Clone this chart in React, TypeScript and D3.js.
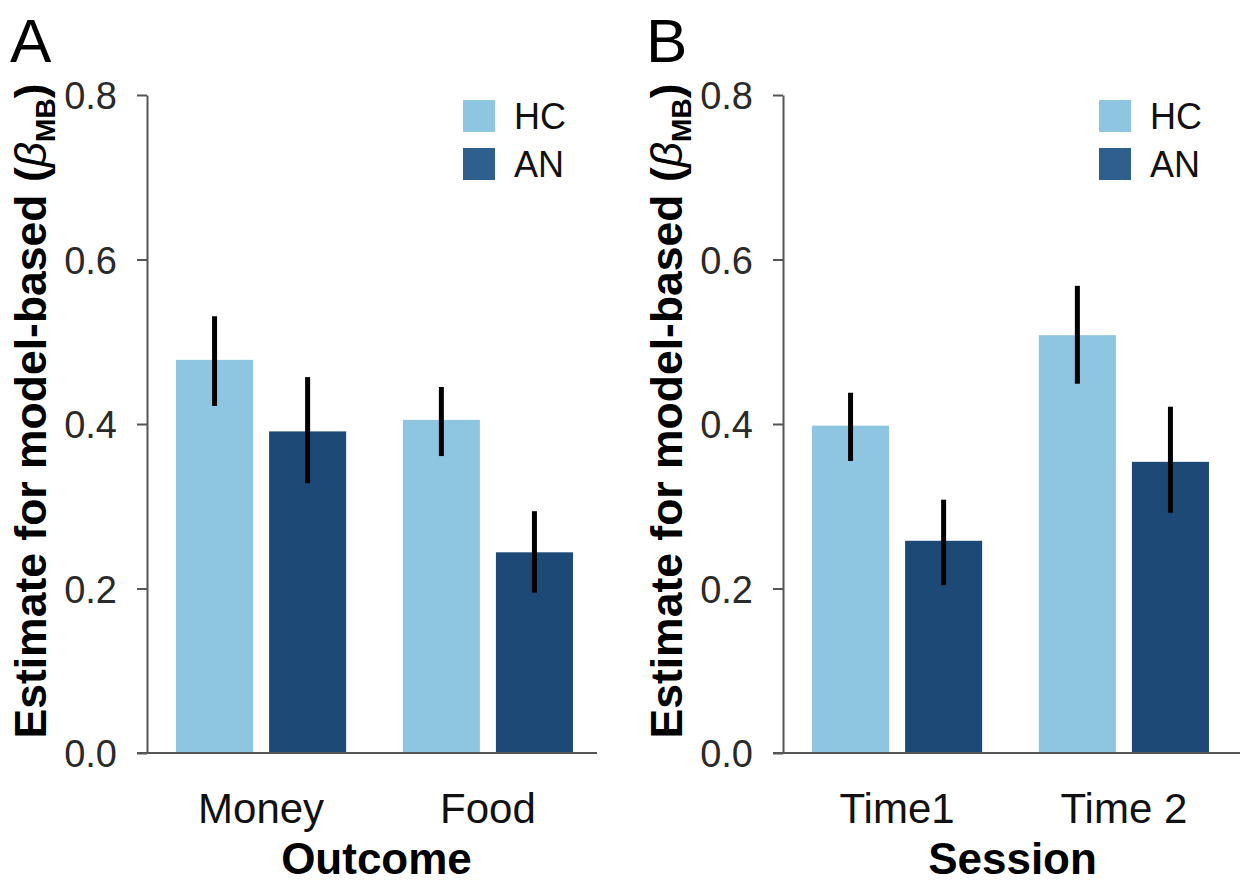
import React, { useRef, useEffect } from 'react';
import * as d3 from 'd3';

// panel A: outcome
const outcomes = ["Money", "Food"];
const outcomeHC = [0.478, 0.405];
const outcomeAN = [0.391, 0.244];
const outcomeHCLow = [0.422, 0.361];
const outcomeHCHigh = [0.531, 0.445];
const outcomeANLow = [0.328, 0.195];
const outcomeANHigh = [0.457, 0.294];

// panel B: session
const sessions = ["Time1", "Time 2"];
const sessionHC = [0.398, 0.508];
const sessionAN = [0.258, 0.354];
const sessionHCLow = [0.355, 0.449];
const sessionHCHigh = [0.438, 0.568];
const sessionANLow = [0.204, 0.292];
const sessionANHigh = [0.308, 0.421];

const groups = ["HC", "AN"];
const yTicks = [0, 0.2, 0.4, 0.6, 0.8];

const barColors = { HC: "#8ec5e1", AN: "#1c4976" };
const legendColors = { HC: "#8ec5e1", AN: "#2e5f8d" };
const font = "'Liberation Sans', Arial, Helvetica, sans-serif";

function App() {
  const ref = useRef(null);

  useEffect(() => {
    const width = 1246;
    const height = 882;
    const panelShift = 636;

    const svg = d3.select(ref.current)
      .append("svg")
      .attr("width", width)
      .attr("height", height)
      .attr("viewBox", [0, 0, width, height])
      .style("position", "absolute")
      .style("left", "0px")
      .style("top", "0px")
      .style("background", "#fff")
      .style("font-family", font);

    const y = d3.scaleLinear().domain([0, 0.8]).range([753, 95]);

    const panels = [
      { letter: "A", cats: outcomes, hc: outcomeHC, an: outcomeAN, hcLow: outcomeHCLow, hcHigh: outcomeHCHigh, anLow: outcomeANLow, anHigh: outcomeANHigh, title: "Outcome", lineEnd: 597 },
      { letter: "B", cats: sessions, hc: sessionHC, an: sessionAN, hcLow: sessionHCLow, hcHigh: sessionHCHigh, anLow: sessionANLow, anHigh: sessionANHigh, title: "Session", lineEnd: 1240 - panelShift },
    ];

    panels.forEach((p, i) => {
      const g = svg.append("g").attr("transform", `translate(${i * panelShift},0)`);
      const axisX = 147;

      const x0 = d3.scaleBand()
        .domain(p.cats)
        .range([axisX, 602])
        .paddingInner(0.25)
        .paddingOuter(0.128);

      const x1 = d3.scaleBand()
        .domain(groups)
        .range([0, x0.bandwidth()])
        .paddingInner(0.172);

      const rows = p.cats.map((c, j) => ({
        cat: c,
        items: [
          { key: "HC", v: p.hc[j], lo: p.hcLow[j], hi: p.hcHigh[j] },
          { key: "AN", v: p.an[j], lo: p.anLow[j], hi: p.anHigh[j] },
        ],
      }));

      // bars
      const cg = g.selectAll(".cat").data(rows).join("g")
        .attr("transform", d => `translate(${x0(d.cat)},0)`);

      cg.selectAll("rect").data(d => d.items).join("rect")
        .attr("x", d => x1(d.key))
        .attr("y", d => y(d.v))
        .attr("width", x1.bandwidth())
        .attr("height", d => y(0) - y(d.v))
        .attr("fill", d => barColors[d.key]);

      // error bars
      cg.selectAll("line.err").data(d => d.items).join("line")
        .attr("class", "err")
        .attr("x1", d => x1(d.key) + x1.bandwidth() / 2)
        .attr("x2", d => x1(d.key) + x1.bandwidth() / 2)
        .attr("y1", d => y(d.hi))
        .attr("y2", d => y(d.lo))
        .attr("stroke", "#000")
        .attr("stroke-width", 5);

      // y axis
      g.append("g")
        .attr("transform", `translate(${axisX},0)`)
        .call(d3.axisLeft(y).tickValues(yTicks).tickFormat(d3.format(".1f")).tickSize(10).tickSizeOuter(0).tickPadding(20))
        .call(a => a.select(".domain").attr("stroke", "#555").attr("stroke-width", 2))
        .call(a => a.selectAll(".tick line").attr("stroke", "#555").attr("stroke-width", 2))
        .call(a => a.selectAll(".tick text")
          .attr("font-size", 38)
          .attr("font-family", font)
          .attr("fill", "#2a2a2a")
          .attr("dy", "0.36em"));

      // x axis
      g.append("line")
        .attr("x1", axisX - 10)
        .attr("x2", p.lineEnd)
        .attr("y1", y(0))
        .attr("y2", y(0))
        .attr("stroke", "#555")
        .attr("stroke-width", 2);

      g.append("g")
        .attr("transform", `translate(0,${y(0)})`)
        .call(d3.axisBottom(x0).tickSize(0))
        .call(a => a.select(".domain").remove())
        .call(a => a.selectAll(".tick text")
          .attr("y", 70)
          .attr("dy", null)
          .attr("font-size", 42)
          .attr("font-family", font)
          .attr("fill", "#111"));

      // x title
      g.append("text")
        .attr("x", (x0.range()[0] + x0.range()[1]) / 2 + 2)
        .attr("y", 874)
        .attr("text-anchor", "middle")
        .attr("font-size", 44)
        .attr("font-weight", "bold")
        .attr("fill", "#000")
        .text(p.title);

      // y title
      const yt = g.append("text")
        .attr("transform", "translate(46,411) rotate(-90)")
        .attr("text-anchor", "middle")
        .attr("font-size", 44.5)
        .attr("font-weight", "bold")
        .attr("fill", "#000");
      yt.append("tspan").text("Estimate for model-based (");
      yt.append("tspan").attr("font-style", "italic").attr("font-weight", "normal").text("β");
      yt.append("tspan").attr("font-size", 28).attr("dy", 9).text("MB");
      yt.append("tspan").attr("dy", -9).text(")");

      // panel letter
      g.append("text")
        .attr("x", 10)
        .attr("y", 62)
        .attr("font-size", 62)
        .attr("fill", "#000")
        .text(p.letter);

      // legend
      const lg = g.append("g").attr("transform", `translate(463,100)`);
      groups.forEach((k, j) => {
        lg.append("rect")
          .attr("x", 0)
          .attr("y", j * 48)
          .attr("width", 32)
          .attr("height", 32)
          .attr("fill", legendColors[k]);
        lg.append("text")
          .attr("x", 51)
          .attr("y", j * 48 + 29)
          .attr("font-size", 36)
          .attr("fill", "#111")
          .text(k);
      });
    });

    return () => { d3.select(ref.current).selectAll("*").remove(); };
  }, []);

  return <div ref={ref}></div>;
}

export default App;
